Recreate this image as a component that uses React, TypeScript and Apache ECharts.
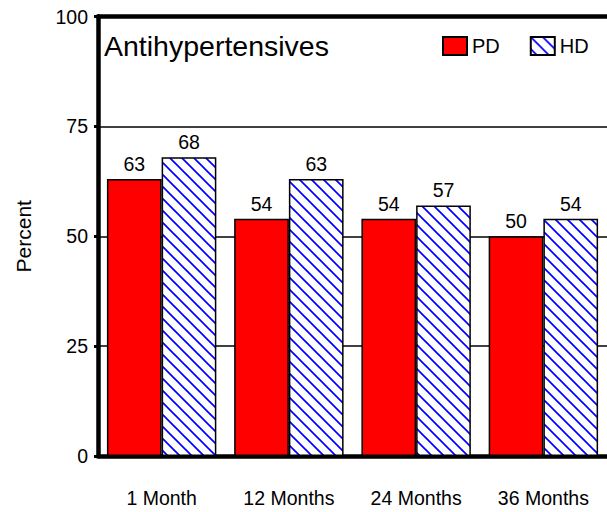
import React, { useEffect, useRef } from "react";
import * as echarts from "echarts";

const categories = ["1 Month", "12 Months", "24 Months", "36 Months"];
const pdValues = [63, 54, 54, 50];
const hdValues = [68, 63, 57, 54];
const yTicks = { min: 0, max: 100, interval: 25 };
const titleText = "Antihypertensives";
const yAxisName = "Percent";

const FONT = "'Liberation Sans', Arial, sans-serif";

function makeHatch(): HTMLCanvasElement {
  const c = document.createElement("canvas");
  const s = 12;
  c.width = s;
  c.height = s;
  const ctx = c.getContext("2d")!;
  ctx.fillStyle = "#ffffff";
  ctx.fillRect(0, 0, s, s);
  ctx.strokeStyle = "#0000ff";
  ctx.lineWidth = 1.7;
  for (const o of [-s, 0, s]) {
    ctx.beginPath();
    ctx.moveTo(o - 2, -2);
    ctx.lineTo(o + s + 2, s + 2);
    ctx.stroke();
  }
  return c;
}

export default function App() {
  const ref = useRef<HTMLDivElement>(null);
  useEffect(() => {
    if (!ref.current) return;
    const chart = echarts.init(ref.current, undefined, { renderer: "svg" });
    const hatch = makeHatch();
    const hatchFill: any = { image: hatch, repeat: "repeat", imageWidth: 12, imageHeight: 12 };
    const labelStyle = {
      show: true,
      position: "top" as const,
      distance: 5,
      color: "#000",
      fontSize: 19.5,
      fontFamily: FONT,
    };
    chart.setOption({
      animation: false,
      backgroundColor: "#ffffff",
      title: {
        text: titleText,
        left: 104,
        top: 31,
        padding: 0,
        textStyle: { fontSize: 28.5, fontWeight: "normal", color: "#000", fontFamily: FONT },
      },
      legend: {
        left: 442,
        top: 36,
        padding: 0,
        itemWidth: 24,
        itemHeight: 18,
        itemGap: 30,
        icon: "rect",
        textStyle: { fontSize: 20, color: "#000", fontFamily: FONT },
        data: ["PD", "HD"],
      },
      grid: { left: 98, right: -1, top: 16.5, bottom: 56, containLabel: false },
      xAxis: [
        {
          type: "category",
          data: categories,
          axisLine: { show: true, lineStyle: { color: "#000", width: 4.5 } },
          axisTick: { show: false },
          axisLabel: { margin: 32, fontSize: 19.5, color: "#000", fontFamily: FONT },
          splitLine: { show: false },
        },
        {
          type: "category",
          data: categories,
          position: "top",
          axisLine: { show: true, onZero: false, lineStyle: { color: "#000", width: 4.5 } },
          axisTick: { show: false },
          axisLabel: { show: false },
          splitLine: { show: false },
        },
      ],
      yAxis: {
        type: "value",
        min: yTicks.min,
        max: yTicks.max,
        interval: yTicks.interval,
        name: yAxisName,
        nameLocation: "middle",
        nameRotate: 90,
        nameGap: 64,
        nameTextStyle: { fontSize: 21, color: "#000", fontFamily: FONT },
        axisLine: { show: true, lineStyle: { color: "#000", width: 4.5 } },
        axisTick: { show: true, length: 4, lineStyle: { color: "#000", width: 3 } },
        axisLabel: { margin: 10, fontSize: 19.5, color: "#000", fontFamily: FONT },
        splitLine: { show: true, lineStyle: { color: "#000", width: 1.5 } },
      },
      series: [
        {
          name: "PD",
          type: "bar",
          data: pdValues,
          barGap: "0%",
          barCategoryGap: "14%",
          itemStyle: { color: "#ff0000", borderColor: "#000", borderWidth: 1.5 },
          label: labelStyle,
        },
        {
          name: "HD",
          type: "bar",
          data: hdValues,
          barGap: "0%",
          barCategoryGap: "14%",
          itemStyle: { color: hatchFill, borderColor: "#000", borderWidth: 1.5 },
          label: labelStyle,
        },
      ],
    });
    return () => chart.dispose();
  }, []);
  return (
    <div
      ref={ref}
      style={{ position: "absolute", left: 0, top: 0, width: 607, height: 512 }}
    />
  );
}
